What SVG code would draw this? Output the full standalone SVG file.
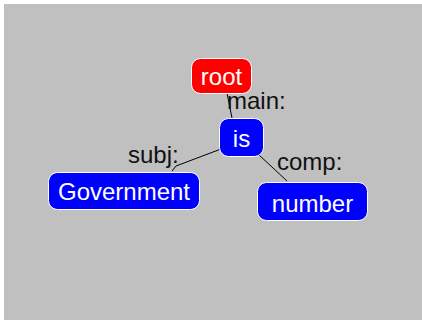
<svg xmlns="http://www.w3.org/2000/svg" width="422" height="320" viewBox="0 0 422 320">
  <style>
    .node rect { stroke: #ffffff; stroke-width: 1; }
    .red rect { fill: #ff0000; }
    .blue rect { fill: #0000ff; }
    .node text { fill: #ffffff; font-family: "Liberation Sans", Arial, sans-serif; font-size: 24px; text-anchor: middle; }
    .edge line { stroke: #000000; stroke-width: 1; }
    .edge text { fill: #111111; font-family: "Liberation Sans", Arial, sans-serif; font-size: 24px; }
  </style>

  <!-- canvas -->
  <rect x="0" y="0" width="422" height="320" fill="#ffffff"/>
  <rect x="4" y="4" width="418" height="316" fill="#c0c0c0"/>

  <!-- dependency edges with their relation labels -->
  <g id="edges" class="edge">
    <line x1="227" y1="93" x2="232" y2="118"/>
    <text x="227" y="109">main:</text>
    <line x1="221" y1="149" x2="176" y2="166"/>
    <line x1="176" y1="166" x2="172" y2="171"/>
    <text x="128" y="163">subj:</text>
    <line x1="258" y1="154" x2="287" y2="181"/>
    <text x="277" y="170">comp:</text>
  </g>

  <g id="node-root" class="node red">
    <rect x="191.5" y="58.5" width="60" height="35" rx="9"/>
    <text x="221.5" y="85">root</text>
  </g>

  <g id="node-is" class="node blue">
    <rect x="219.5" y="118.5" width="44" height="38" rx="9"/>
    <text x="241.5" y="147">is</text>
  </g>

  <g id="node-government" class="node blue">
    <rect x="48.5" y="172.5" width="151" height="37" rx="9"/>
    <text x="124" y="200">Government</text>
  </g>

  <g id="node-number" class="node blue">
    <rect x="257.5" y="182.5" width="110" height="38" rx="9"/>
    <text x="312.5" y="212">number</text>
  </g>
</svg>
